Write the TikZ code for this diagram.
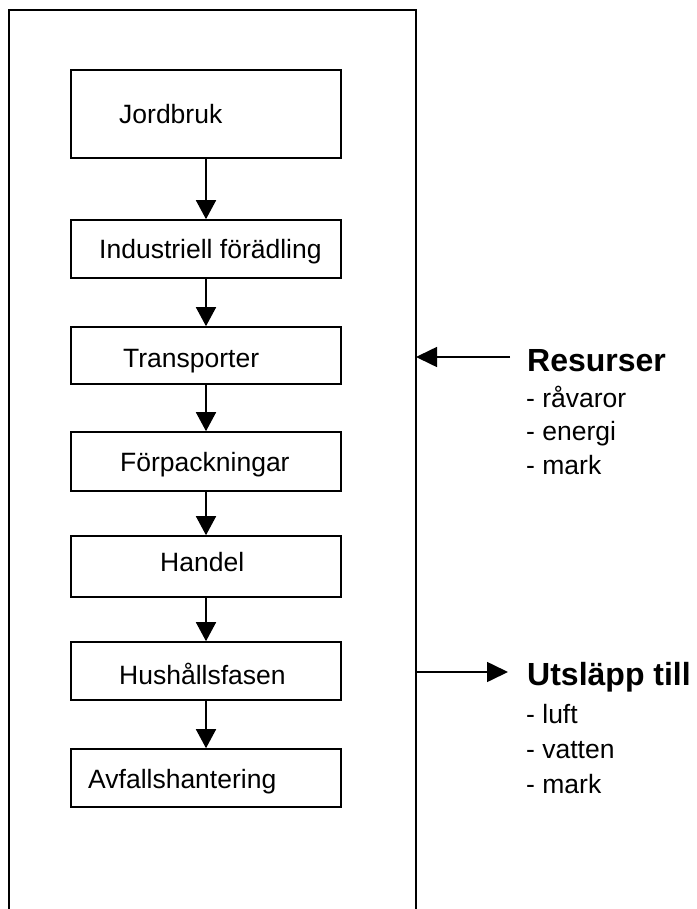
\documentclass[tikz,border=0pt]{standalone}
\usepackage{fontspec}
\setmainfont{Liberation Sans}
\usetikzlibrary{arrows.meta}
\begin{document}
\begin{tikzpicture}[x=1pt,y=-1pt,
  box/.style={draw,line width=1.6pt,minimum width=270pt,inner sep=0pt},
  lbl/.style={anchor=base west,inner sep=0pt,font=\fontsize{26.5}{30}\selectfont},
  head/.style={anchor=base west,inner sep=0pt,font=\fontsize{32}{36}\selectfont\bfseries},
  arr/.style={line width=1.6pt,-{Triangle[length=19pt,width=20pt]}},
  sarr/.style={line width=1.6pt,-{Triangle[length=21pt,width=20pt]}}]
\useasboundingbox (0,0) rectangle (696,909);
% outer frame (open at the bottom)
\coordinate (fbl) at (9,915);
\coordinate (ftl) at (9,10);
\coordinate (ftr) at (416,10);
\coordinate (fbr) at (416,915);
\draw[line width=1.6pt] (fbl) -- (ftl) -- (ftr) -- (fbr);
% boxes
\node[box,minimum height=88pt] (b1) at (206,114) {};
\node[box,minimum height=58pt] (b2) at (206,249) {};
\node[box,minimum height=57pt] (b3) at (206,355.5) {};
\node[box,minimum height=59pt] (b4) at (206,461.5) {};
\node[box,minimum height=61pt] (b5) at (206,566.5) {};
\node[box,minimum height=58pt] (b6) at (206,671) {};
\node[box,minimum height=58pt] (b7) at (206,778) {};
% labels
\node[lbl] (t1) at (119,124) {Jordbruk};
\node[lbl] (t2) at (99,258) {Industriell förädling};
\node[lbl] (t3) at (123,367) {Transporter};
\node[lbl] (t4) at (120,471) {Förpackningar};
\node[lbl] (t5) at (160,571) {Handel};
\node[lbl] (t6) at (119,684) {Hushållsfasen};
\node[lbl] (t7) at (88,788) {Avfallshantering};
% flow arrows
\draw[arr] (b1.south) -- (b2.north);
\draw[arr] (b2.south) -- (b3.north);
\draw[arr] (b3.south) -- (b4.north);
\draw[arr] (b4.south) -- (b5.north);
\draw[arr] (b5.south) -- (b6.north);
\draw[arr] (b6.south) -- (b7.north);
% side arrows
\coordinate (rs) at (510,357);
\coordinate (rw) at (416,357);
\draw[sarr] (rs) -- (rw);
\coordinate (uw) at (416,672);
\coordinate (ue) at (508,672);
\draw[sarr] (uw) -- (ue);
% side texts
\node[head] (h1) at (527,371) {Resurser};
\node[lbl] (r1) at (526,407) {- råvaror};
\node[lbl] (r2) at (526,440) {- energi};
\node[lbl] (r3) at (526,474) {- mark};
\node[head] (h2) at (527,685) {Utsläpp till};
\node[lbl] (u1) at (526,723) {- luft};
\node[lbl] (u2) at (526,758) {- vatten};
\node[lbl] (u3) at (526,793) {- mark};
\end{tikzpicture}
\end{document}
